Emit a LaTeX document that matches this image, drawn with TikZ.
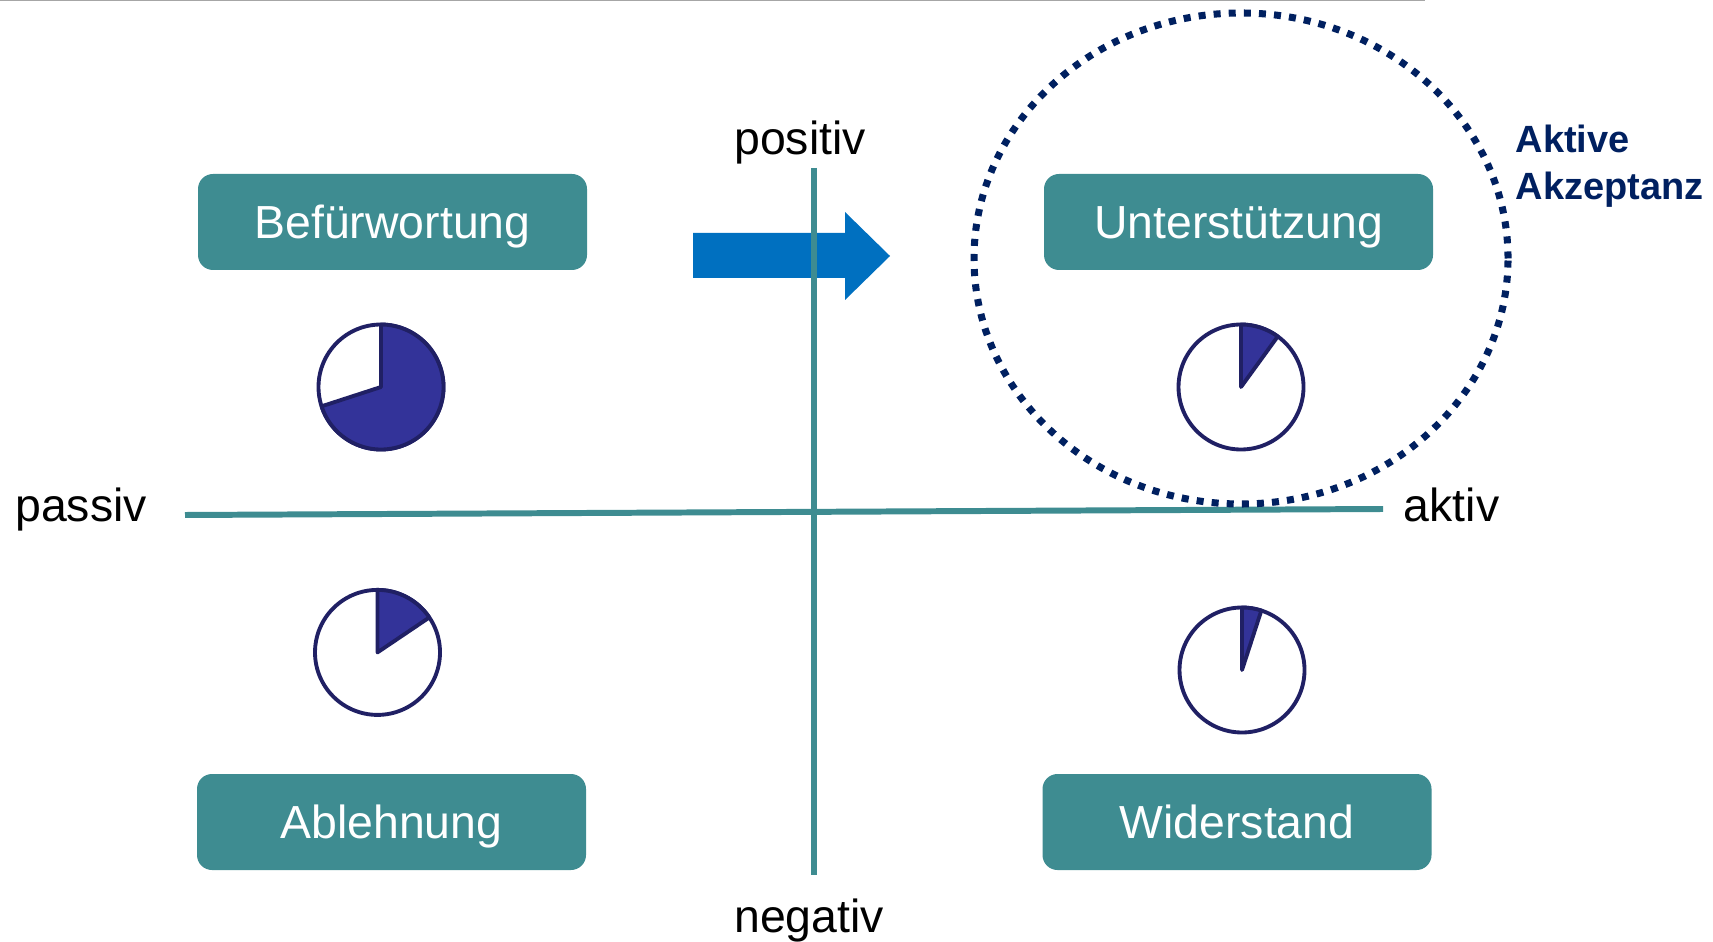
\documentclass[tikz,border=0pt]{standalone}
\usepackage{fontspec}
\setmainfont{Liberation Sans}
\usepackage{tikz}
\usetikzlibrary{positioning,calc}
\definecolor{axisteal}{RGB}{62,140,145}
\definecolor{piefill}{RGB}{51,51,153}
\definecolor{pieline}{RGB}{32,32,100}
\definecolor{dotnavy}{RGB}{0,32,96}
\definecolor{arrowblue}{RGB}{0,112,192}
\tikzset{box/.style={fill=axisteal, rounded corners=0.15cm, minimum width=3.89cm, minimum height=0.96cm, inner sep=0, text=white, text height=0.33cm, text depth=0cm, font=\fontsize{13.2pt}{15pt}\selectfont}}
\tikzset{lab/.style={anchor=base, inner sep=0, font=\fontsize{13.2pt}{15pt}\selectfont}}
\tikzset{p/.style={circle, draw=pieline, fill=white, line width=1.1pt, minimum size=1.25cm, inner sep=0}}
\tikzset{axis/.style={draw=axisteal, line width=1.7pt}}
\tikzset{akz/.style={anchor=base west, inner sep=0, text=dotnavy, font=\bfseries\fontsize{10.8pt}{12pt}\selectfont}}

\begin{document}
\begin{tikzpicture}
    \useasboundingbox (0,0) rectangle (17.13,9.41);
    \draw[gray!70, line width=0.8pt] (0,9.41) -- (14.25,9.41);

    \fill[arrowblue] (6.93,7.08) -- (8.45,7.08) -- (8.45,7.29) -- (8.90,6.85) -- (8.45,6.41) -- (8.45,6.63) -- (6.93,6.63) -- cycle;

    \coordinate (N) at (8.14,7.73);
    \coordinate (S) at (8.14,0.66);
    \coordinate (W) at (1.85,4.26);
    \coordinate (E) at (13.83,4.32);
    \draw[axis] (W) -- (E);
    \draw[axis] (N) -- (S);

    \node[lab] (passiv) at (0.81,4.19) {passiv};
    \node[lab] (aktiv) at (14.515,4.19) {aktiv};
    \node[lab] (positiv) at (8.00,7.86) {positiv};
    \node[lab] (negativ) at (8.09,0.09) {negativ};

    \node[box] (B1) at (3.925,7.19) {Befürwortung};
    \node[box] (B2) at (12.385,7.19) {Unterstützung};
    \node[box] (B3) at (3.915,1.19) {Ablehnung};
    \node[box] (B4) at (12.37,1.19) {Widerstand};

    \foreach \n/\x/\y/\a in {1/3.81/5.54/-162, 2/12.41/5.54/54, 3/3.775/2.886/34, 4/12.42/2.71/72}
    {
      \node[p] (P\n) at (\x,\y) {};
      \filldraw[fill=piefill, draw=pieline, line width=1.1pt, line join=round] (P\n.center) -- ++(\a:0.625) arc[start angle=\a, end angle=90, radius=0.625] -- cycle;
    }

    \draw[dotnavy, line width=2pt, dash pattern=on 2pt off 2.3pt] (12.41,6.825) ellipse [x radius=2.67, y radius=2.455];
    \node[akz] (akz1) at (15.15,7.88) {Aktive};
    \node[akz] (akz2) at (15.15,7.41) {Akzeptanz};
\end{tikzpicture}
\end{document}
